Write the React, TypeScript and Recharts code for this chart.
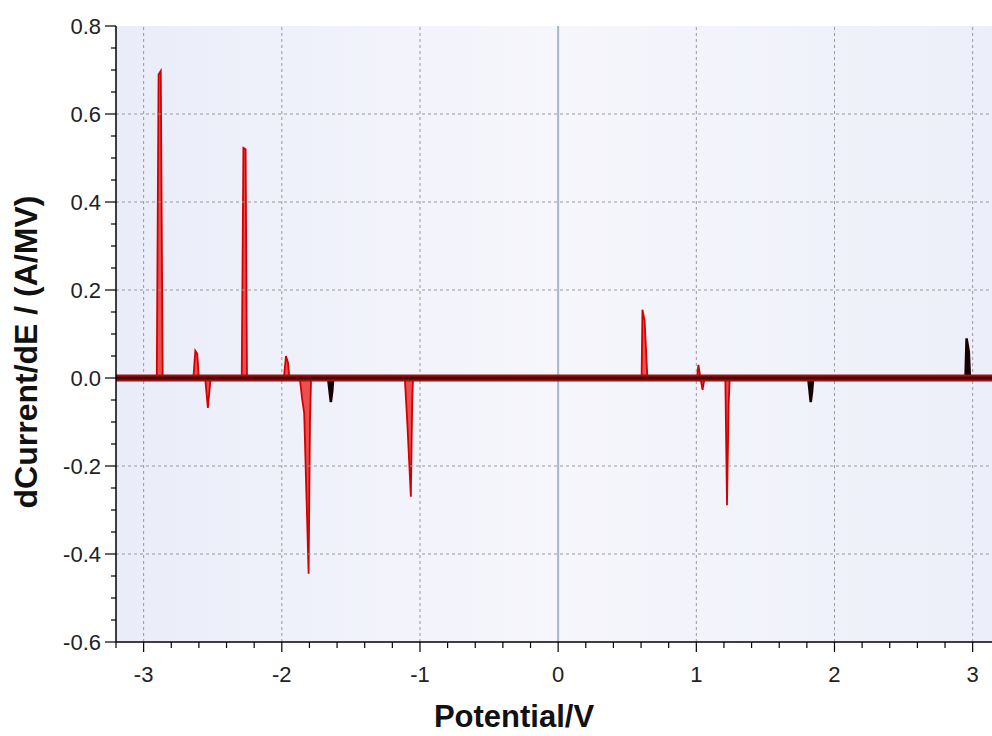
import React from 'react';
import {
  ComposedChart, Area, XAxis, YAxis, ReferenceLine, ReferenceArea, Label,
} from 'recharts';

// red trace (potential / dI/dE)
const redX = [
  -3.2, -2.905, -2.892, -2.876, -2.862,
  -2.64, -2.626, -2.612, -2.6,
  -2.555, -2.535, -2.515,
  -2.29, -2.278, -2.262, -2.252,
  -1.985, -1.97, -1.955, -1.945,
  -1.87, -1.852, -1.838, -1.806, -1.796, -1.788,
  -1.11, -1.092, -1.066, -1.056, -1.05,
  0.604, 0.61, 0.626, 0.646,
  1.005, 1.015, 1.03, 1.045, 1.06,
  1.21, 1.222, 1.234, 1.242,
  3.14,
];
const redY = [
  0, 0, 0.69, 0.698, 0,
  0, 0.062, 0.055, 0,
  0, -0.068, 0,
  0, 0.523, 0.52, 0,
  0, 0.05, 0.035, 0,
  0, -0.05, -0.08, -0.445, -0.1, 0,
  0, -0.1, -0.27, -0.05, 0,
  0, 0.155, 0.13, 0,
  0, 0.03, 0, -0.027, 0,
  0, -0.289, -0.06, 0,
  0,
];

// black trace
const blackX = [
  -3.2, -1.665, -1.645, -1.635, -1.628,
  1.81, 1.828, 1.838, 1.845,
  2.948, 2.956, 2.972, 2.98,
  3.14,
];
const blackY = [
  0, 0, -0.055, -0.03, 0,
  0, -0.055, -0.03, 0,
  0, 0.09, 0.06, 0,
  0,
];

const xTicks = [
  -3.2, -3, -2.8, -2.6, -2.4, -2.2, -2, -1.8, -1.6, -1.4, -1.2, -1, -0.8, -0.6, -0.4, -0.2,
  0, 0.2, 0.4, 0.6, 0.8, 1, 1.2, 1.4, 1.6, 1.8, 2, 2.2, 2.4, 2.6, 2.8, 3,
];
const yTicks = [
  -0.6, -0.55, -0.5, -0.45, -0.4, -0.35, -0.3, -0.25, -0.2, -0.15, -0.1, -0.05,
  0, 0.05, 0.1, 0.15, 0.2, 0.25, 0.3, 0.35, 0.4, 0.45, 0.5, 0.55, 0.6, 0.65, 0.7, 0.75, 0.8,
];
const xGrid = [-3, -2, -1, 1, 2, 3];
const yGrid = [0.6, 0.4, 0.2, -0.2, -0.4];

const redData = redX.map((x, i) => ({ x, red: redY[i] }));
const blackData = blackX.map((x, i) => ({ x, black: blackY[i] }));

const font = '"Liberation Sans", Arial, sans-serif';

const XTick = (props: any) => {
  const { x, y, payload } = props;
  const v = payload.value;
  const major = Math.abs(v - Math.round(v)) < 1e-6;
  return (
    <g>
      <line x1={x} x2={x} y1={y} y2={y + (major ? 10 : 6)} stroke="#000" strokeWidth={1.2} />
      {major && (
        <text x={x} y={y + 40} textAnchor="middle" fontSize={22} fill="#222" fontFamily={font}>
          {Math.round(v)}
        </text>
      )}
    </g>
  );
};

const YTick = (props: any) => {
  const { x, y, payload } = props;
  const v = payload.value;
  const major = Math.abs(v * 5 - Math.round(v * 5)) < 1e-6;
  return (
    <g>
      <line x1={x - (major ? 11 : 5)} x2={x} y1={y} y2={y} stroke="#000" strokeWidth={1.2} />
      {major && (
        <text x={x - 15} y={y + 8} textAnchor="end" fontSize={22} fill="#222" fontFamily={font}>
          {v.toFixed(1)}
        </text>
      )}
    </g>
  );
};

export default function App() {
  return (
    <div style={{ position: 'absolute', left: 0, top: 0, width: 992, height: 736, background: '#fff' }}>
      <ComposedChart
        width={992}
        height={736}
        margin={{ top: 26, right: 0, bottom: 64, left: 56 }}
      >
        <defs>
          <linearGradient id="bg" x1="0" y1="0" x2="1" y2="0">
            <stop offset="0%" stopColor="#eaedf9" />
            <stop offset="50%" stopColor="#f6f6fc" />
            <stop offset="100%" stopColor="#eceff9" />
          </linearGradient>
        </defs>
        <XAxis
          type="number"
          dataKey="x"
          domain={[-3.2, 3.14]}
          ticks={xTicks}
          allowDataOverflow
          height={30}
          tickSize={0}
          tickMargin={0}
          tick={<XTick />}
          axisLine={{ stroke: '#000', strokeWidth: 1.5 }}
          interval={0}
        >
          <Label
            content={() => (
              <text x={514} y={727} textAnchor="middle" fontSize={31} fontWeight="bold" fill="#111" fontFamily={font}>
                Potential/V
              </text>
            )}
          />
        </XAxis>
        <YAxis
          type="number"
          domain={[-0.6, 0.8]}
          ticks={yTicks}
          allowDataOverflow
          width={60}
          tickSize={0}
          tickMargin={0}
          tick={<YTick />}
          axisLine={{ stroke: '#000', strokeWidth: 1.5 }}
          interval={0}
        >
          <Label
            content={() => (
              <text
                x={37}
                y={352}
                transform="rotate(-90 37 352)"
                textAnchor="middle"
                fontSize={32}
                fontWeight="bold"
                fill="#111"
                fontFamily={font}
              >
                dCurrent/dE / (A/MV)
              </text>
            )}
          />
        </YAxis>
        <ReferenceArea x1={-3.2} x2={3.14} y1={-0.6} y2={0.8} fill="url(#bg)" fillOpacity={1} stroke="none" />
        {xGrid.map((v) => (
          <ReferenceLine key={'gx' + v} x={v} stroke="#9a9a9a" strokeDasharray="3 3" strokeWidth={1} />
        ))}
        {yGrid.map((v) => (
          <ReferenceLine key={'gy' + v} y={v} stroke="#9a9a9a" strokeDasharray="3 3" strokeWidth={1} />
        ))}
        <ReferenceLine x={0} stroke="#a7b6c9" strokeWidth={2} />
        <ReferenceLine y={0} stroke="#a01010" strokeWidth={7} />
        <ReferenceLine y={0} stroke="#4a0606" strokeWidth={3} />
        <Area
          data={redData}
          dataKey="red"
          type="linear"
          stroke="#d40000"
          strokeWidth={1.8}
          fill="#e81818"
          fillOpacity={0.75}
          baseValue={0}
          isAnimationActive={false}
          dot={false}
          activeDot={false}
        />
        <Area
          data={blackData}
          dataKey="black"
          type="linear"
          stroke="#1a0000"
          strokeWidth={2.5}
          fill="#000"
          fillOpacity={1}
          baseValue={0}
          isAnimationActive={false}
          dot={false}
          activeDot={false}
        />
      </ComposedChart>
    </div>
  );
}
